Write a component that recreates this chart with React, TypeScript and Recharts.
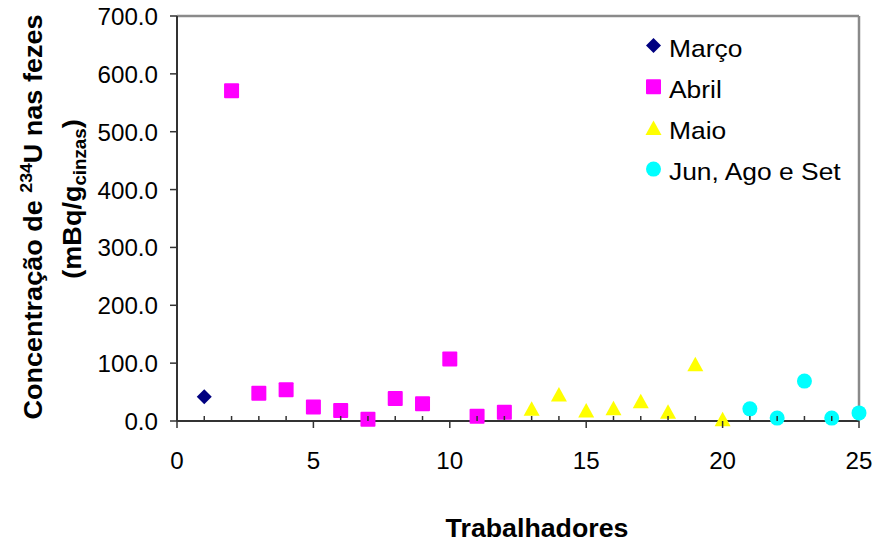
import { Legend, ReferenceLine, Scatter, ScatterChart, XAxis, YAxis } from 'recharts';

// workers (x) and 234U concentration in faeces (y), grouped by collection month
const marcoX = [1];
const marcoY = [42];

const abrilX = [2, 3, 4, 5, 6, 7, 8, 9, 10, 11, 12];
const abrilY = [571, 48, 54, 24, 18, 3, 39, 30, 107, 8, 15];

const maioX = [13, 14, 15, 16, 17, 18, 19, 20];
const maioY = [21, 46, 18, 22, 34, 16, 98, 3];

const junAgoSetX = [21, 22, 23, 24, 25];
const junAgoSetY = [21, 5, 69, 5, 14];

const xTicks = [0, 1, 2, 3, 4, 5, 6, 7, 8, 9, 10, 11, 12, 13, 14, 15, 16, 17, 18, 19, 20, 21, 22, 23, 24, 25];
const xLabelTicks = [0, 5, 10, 15, 20, 25];
const yTicks = [0, 100, 200, 300, 400, 500, 600, 700];

const FONT = '"Liberation Sans", Arial, sans-serif';
const AXIS = '#333333';
const BORDER = '#8a8a8a';

const toPoints = (xs: number[], ys: number[]) => xs.map((x, i) => ({ x, y: ys[i] }));

type Marker = 'diamond' | 'square' | 'triangle' | 'circle';

const drawMarker = (kind: Marker, cx: number, cy: number, fill: string) => {
  const h = 7.5;
  switch (kind) {
    case 'diamond':
      return <polygon points={`${cx},${cy - h} ${cx + h},${cy} ${cx},${cy + h} ${cx - h},${cy}`} fill={fill} />;
    case 'square':
      return <rect x={cx - h} y={cy - h} width={2 * h} height={2 * h} rx={1} fill={fill} />;
    case 'triangle':
      return <polygon points={`${cx},${cy - 7.5} ${cx + 8},${cy + 7} ${cx - 8},${cy + 7}`} fill={fill} />;
    default:
      return <circle cx={cx} cy={cy} r={h} fill={fill} />;
  }
};

const series: { name: string; color: string; marker: Marker; data: { x: number; y: number }[] }[] = [
  { name: 'Março', color: '#000080', marker: 'diamond', data: toPoints(marcoX, marcoY) },
  { name: 'Abril', color: '#ff00ff', marker: 'square', data: toPoints(abrilX, abrilY) },
  { name: 'Maio', color: '#ffff00', marker: 'triangle', data: toPoints(maioX, maioY) },
  { name: 'Jun, Ago e Set', color: '#00ffff', marker: 'circle', data: toPoints(junAgoSetX, junAgoSetY) },
];

// text in this chart is set slightly wide
const wide = (x: number, y: number, sx: number) => `translate(${x},${y}) scale(${sx},1)`;

const XTick = ({ x, y, payload }: any) => {
  const major = xLabelTicks.includes(payload.value);
  return (
    <g>
      {major ? (
        <line x1={x} x2={x} y1={y} y2={y + 7} stroke={AXIS} strokeWidth={1.5} />
      ) : (
        <line x1={x} x2={x} y1={y - 5} y2={y} stroke={AXIS} strokeWidth={1.5} />
      )}
      {major && (
        <text transform={wide(x, y + 48, 1.05)} textAnchor="middle" fontSize={23} fontFamily={FONT} fill="#000">
          {payload.value}
        </text>
      )}
    </g>
  );
};

const YTick = ({ x, y, payload }: any) => (
  <g>
    <line x1={x - 7} x2={x} y1={y} y2={y} stroke={AXIS} strokeWidth={1.5} />
    <text transform={wide(x - 19, y + 9, 1.05)} textAnchor="end" fontSize={23} fontFamily={FONT} fill="#000">
      {payload.value.toFixed(1)}
    </text>
  </g>
);

const LegendBox = () => (
  <svg width={230} height={170}>
    {series.map((s, i) => {
      const cy = 20.5 + i * 41.2;
      return (
        <g key={s.name}>
          {drawMarker(s.marker, 13.5, cy, s.color)}
          <text transform={wide(29, cy + 11, 1.1)} fontSize={24} fontFamily={FONT} fill="#000">
            {s.name}
          </text>
        </g>
      );
    })}
  </svg>
);

export default function App() {
  return (
    <div style={{ position: 'absolute', top: 0, left: 0, width: 877, height: 545, background: '#fff' }}>
      <ScatterChart width={877} height={545} margin={{ top: 16, right: 18, bottom: 0, left: 0 }}>
        <XAxis
          type="number"
          dataKey="x"
          domain={[0, 25]}
          ticks={xTicks}
          interval={0}
          height={124}
          tickSize={0}
          tickMargin={0}
          tickLine={false}
          axisLine={{ stroke: AXIS, strokeWidth: 2 }}
          tick={<XTick />}
        />
        <YAxis
          type="number"
          dataKey="y"
          domain={[0, 700]}
          ticks={yTicks}
          interval={0}
          width={177}
          tickSize={0}
          tickMargin={0}
          tickLine={false}
          axisLine={{ stroke: AXIS, strokeWidth: 2 }}
          tick={<YTick />}
        />
        <ReferenceLine y={700} stroke={BORDER} strokeWidth={2.5} />
        <ReferenceLine x={25} stroke={BORDER} strokeWidth={2.5} />
        {series.map((s) => (
          <Scatter
            key={s.name}
            name={s.name}
            data={s.data}
            fill={s.color}
            isAnimationActive={false}
            shape={(p: any) => drawMarker(s.marker, p.cx, p.cy, s.color)}
          />
        ))}
        <Legend
          layout="vertical"
          align="center"
          verticalAlign="middle"
          wrapperStyle={{ top: 25, left: 640, width: 230, height: 170 }}
          content={<LegendBox />}
        />
      </ScatterChart>
      <svg
        width={877}
        height={545}
        style={{ position: 'absolute', top: 0, left: 0, pointerEvents: 'none' }}
        fontFamily={FONT}
        fontWeight="bold"
        fill="#000"
      >
        <text transform="translate(42,217) rotate(-90) scale(1.04,1)" textAnchor="middle" fontSize={26}>
          Concentração de{' '}
          <tspan fontSize={17} dy={-10}>
            234
          </tspan>
          <tspan dy={10}>U nas fezes</tspan>
        </text>
        <text transform="translate(81,199) rotate(-90) scale(1.04,1)" textAnchor="middle" fontSize={26}>
          (mBq/g
          <tspan fontSize={18} dy={5}>
            cinzas
          </tspan>
          <tspan dy={-5}>)</tspan>
        </text>
        <text transform={wide(537, 537, 1.07)} textAnchor="middle" fontSize={25}>
          Trabalhadores
        </text>
      </svg>
    </div>
  );
}
